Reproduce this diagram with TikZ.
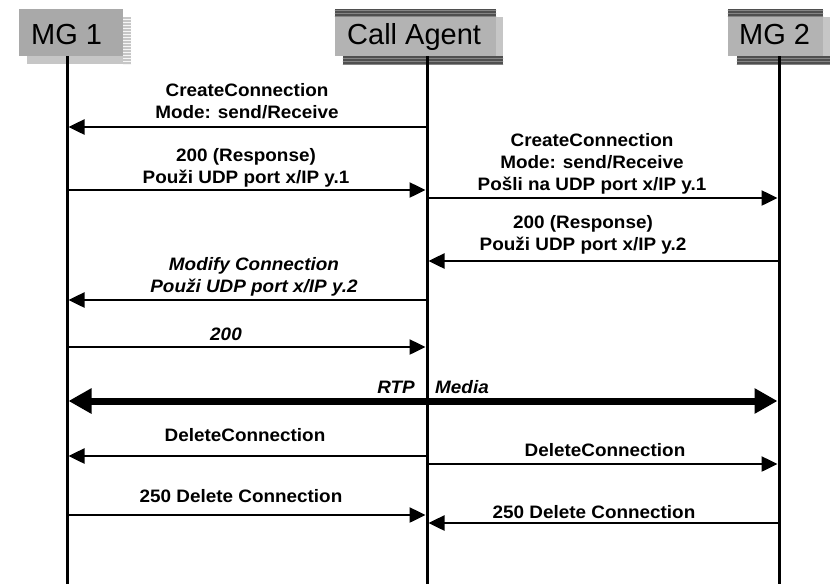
\documentclass[tikz,border=0pt]{standalone}
\usepackage{fontspec}
\setmainfont{Liberation Sans}
\newfontfamily\lblfont[FakeStretch=1.05]{Liberation Sans}
\usetikzlibrary{arrows.meta,patterns}
\definecolor{boxgray}{HTML}{B3B3B3}
\definecolor{boxdark}{HTML}{A9A9A9}
\definecolor{shadowgray}{HTML}{C6C6C6}
\definecolor{banddark}{HTML}{4F4F4F}
\definecolor{bandline}{HTML}{858585}
\newcommand\lbl[1]{{\lblfont\fontsize{18}{22}\selectfont\bfseries\begin{tabular}[b]{@{}c@{}}#1\end{tabular}}}
\newcommand\lbli[1]{{\lblfont\fontsize{18}{22}\selectfont\bfseries\itshape\begin{tabular}[b]{@{}c@{}}#1\end{tabular}}}
\begin{document}
\begin{tikzpicture}[x=1pt,y=-1pt,
  hdrbox/.style={rectangle, inner sep=0pt, minimum height=47pt},
  hdrtext/.style={anchor=base west, inner sep=0pt, font=\fontsize{29}{34}\selectfont, text=black},
  band/.style={fill=banddark, draw=none},
  bandstripes/.style={pattern=horizontal lines, pattern color=bandline},
  lifeline/.style={line width=3pt},
  msg/.style={line width=2.5pt, -{Triangle[length=16pt,width=15pt]}},
  media/.style={line width=7pt, {Triangle[length=23pt,width=24pt]}-{Triangle[length=23pt,width=24pt]}},
  lab/.style={anchor=base, inner sep=0pt}
]
\useasboundingbox (0,0) rectangle (830,584);
\fill[white] (0,0) rectangle (830,584);

% ---------- headers ----------
% MG 1
\fill[shadowgray] (27,17) rectangle (131,64);
\fill[pattern=horizontal lines, pattern color=white!85!shadowgray] (123,17) rectangle (131,64);
\node[hdrbox, fill=boxdark, minimum width=104pt] (mg1) at (71,32.5) {};
\node[hdrtext] (mg1t) at (31,44) {MG 1};

% Call Agent
\fill[shadowgray] (343,17) rectangle (503,64);
\node[hdrbox, fill=boxgray, minimum width=161pt] (ca) at (415.5,32.5) {};
\fill[band] (ca.north west) rectangle ([yshift=-8pt]ca.north east);
\fill[bandstripes] (ca.north west) rectangle ([yshift=-8pt]ca.north east);
\fill[band] ([xshift=8pt]ca.south west) rectangle ([xshift=7pt,yshift=-8pt]ca.south east);
\fill[bandstripes] ([xshift=8pt]ca.south west) rectangle ([xshift=7pt,yshift=-8pt]ca.south east);
\node[hdrtext] (cat) at (347,44) {Call Agent};

% MG 2
\fill[shadowgray] (737,17) rectangle (830,64);
\node[hdrbox, fill=boxgray, minimum width=95pt] (mg2) at (775.5,32.5) {};
\fill[band] (mg2.north west) rectangle ([yshift=-8pt]mg2.north east);
\fill[bandstripes] (mg2.north west) rectangle ([yshift=-8pt]mg2.north east);
\fill[band] ([xshift=9pt]mg2.south west) rectangle (830,64);
\fill[bandstripes] ([xshift=9pt]mg2.south west) rectangle (830,64);
\node[hdrtext] (mg2t) at (739,44) {MG 2};

% ---------- lifelines ----------
\coordinate (l1top) at (67,56);   \coordinate (l1bot) at (67,584);
\coordinate (l2top) at (427,56);  \coordinate (l2bot) at (427,584);
\coordinate (l3top) at (779,56);  \coordinate (l3bot) at (779,584);
\draw[lifeline] (l1top) -- (l1bot);
\draw[lifeline] (l2top) -- (l2bot);
\draw[lifeline] (l3top) -- (l3bot);

% ---------- messages ----------
\coordinate (m1a) at (427,127);  \coordinate (m1b) at (68.5,127);
\coordinate (m2a) at (67,190);   \coordinate (m2b) at (425.5,190);
\coordinate (m3a) at (427,198);  \coordinate (m3b) at (777.5,198);
\coordinate (m4a) at (779,261);  \coordinate (m4b) at (428.5,261);
\coordinate (m5a) at (427,300);  \coordinate (m5b) at (68.5,300);
\coordinate (m6a) at (67,347);   \coordinate (m6b) at (425.5,347);
\coordinate (m7a) at (68.5,401); \coordinate (m7b) at (777.5,401);
\coordinate (m8a) at (427,456);  \coordinate (m8b) at (68.5,456);
\coordinate (m9a) at (427,464);  \coordinate (m9b) at (777.5,464);
\coordinate (m10a) at (67,515);  \coordinate (m10b) at (425.5,515);
\coordinate (m11a) at (779,523); \coordinate (m11b) at (428.5,523);

\draw[msg] (m1a) -- (m1b);
\draw[msg] (m2a) -- (m2b);
\draw[msg] (m3a) -- (m3b);
\draw[msg] (m4a) -- (m4b);
\draw[msg] (m5a) -- (m5b);
\draw[msg] (m6a) -- (m6b);
\draw[media] (m7a) -- (m7b);
\draw[msg] (m8a) -- (m8b);
\draw[msg] (m9a) -- (m9b);
\draw[msg] (m10a) -- (m10b);
\draw[msg] (m11a) -- (m11b);

% ---------- labels ----------
\node[lab] (t1) at (247,118) {\lbl{CreateConnection\\Mode: send/Receive}};
\node[lab] (t2) at (246,183) {\lbl{200 (Response)\\Použi UDP port x/IP y.1}};
\node[lab] (t3) at (592,190) {\lbl{CreateConnection\\Mode: send/Receive\\Pošli na UDP port x/IP y.1}};
\node[lab] (t4) at (583,250) {\lbl{200 (Response)\\Použi UDP port x/IP y.2}};
\node[lab] (t5) at (254,292) {\lbli{Modify Connection\\Použi UDP port x/IP y.2}};
\node[lab] (t6) at (226,340) {\lbli{200}};
\node[lab, anchor=base east] (t7a) at (415,393) {\lbli{RTP}};
\node[lab, anchor=base west] (t7b) at (435,393) {\lbli{Media}};
\node[lab] (t8) at (245,441) {\lbl{DeleteConnection}};
\node[lab] (t9) at (605,456) {\lbl{DeleteConnection}};
\node[lab] (t10) at (241,502) {\lbl{250 Delete Connection}};
\node[lab] (t11) at (594,518) {\lbl{250 Delete Connection}};
\end{tikzpicture}
\end{document}
